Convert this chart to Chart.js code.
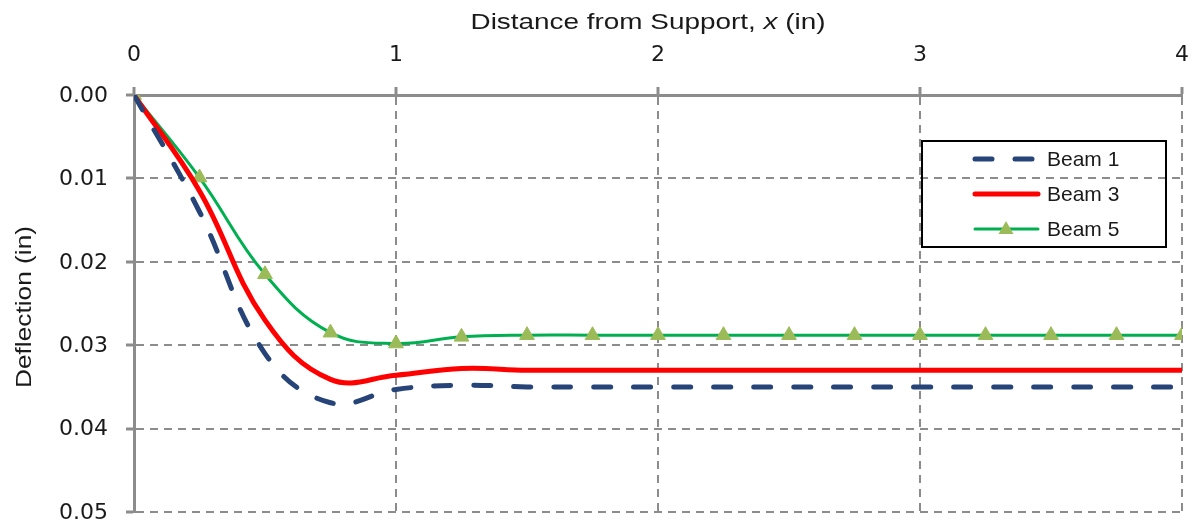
<!DOCTYPE html>
<html>
<head>
<meta charset="utf-8">
<title>Beam deflection</title>
<script src="https://cdn.jsdelivr.net/npm/chart.js@4/dist/chart.umd.min.js"></script>
<style>
  html, body { margin: 0; padding: 0; background: #ffffff; }
  #wrap { width: 1197px; height: 525px; position: relative; }
</style>
</head>
<body>
<div id="wrap"><canvas id="chart" width="1197" height="525"></canvas></div>
<script>
// Distance from support (in)
const positions = [0, 0.25, 0.5, 0.75, 1, 1.25, 1.5, 1.75, 2, 2.25, 2.5, 2.75, 3, 3.25, 3.5, 3.75, 4];

// Deflection (in) for each beam
const beam1 = [0, 0.0140, 0.0310, 0.0369, 0.0353, 0.0348, 0.0350, 0.0350, 0.0350, 0.0350, 0.0350, 0.0350, 0.0350, 0.0350, 0.0350, 0.0350, 0.0350];
const beam3 = [0, 0.0115, 0.0270, 0.0341, 0.0336, 0.0328, 0.0330, 0.0330, 0.0330, 0.0330, 0.0330, 0.0330, 0.0330, 0.0330, 0.0330, 0.0330, 0.0330];
const beam5 = [0, 0.0099, 0.0215, 0.0285, 0.0298, 0.0290, 0.0288, 0.0288, 0.0288, 0.0288, 0.0288, 0.0288, 0.0288, 0.0288, 0.0288, 0.0288, 0.0288];

const seriesNames = ['Beam 1', 'Beam 3', 'Beam 5'];
const xTicks = [0, 1, 2, 3, 4];
const yTicks = [0.00, 0.01, 0.02, 0.03, 0.04, 0.05];

const xTitle = ['Distance from Support, ', 'x', ' (in)'];
const yTitle = 'Deflection (in)';

const BLUE = '#264478';
const RED = '#ff0000';
const GREEN = '#00b050';
const MARK = '#9bbb59';
const GRID = '#8c8c8c';
const TEXT = '#1a1a1a';
const TICK_FONT = 'DejaVu Sans';
const TITLE_FONT = '"Liberation Sans"';

const toPoints = vals => vals.map((v, i) => ({ x: positions[i], y: v }));

// Axis titles (x title has an italic variable) and the outlined legend
const decorations = {
  id: 'decorations',
  afterDraw(chart) {
    const ctx = chart.ctx;
    ctx.save();

    // x-axis title across the top, widened a little to the axis' proportions
    ctx.fillStyle = TEXT;
    ctx.textBaseline = 'alphabetic';
    const fonts = ['22px ' + TITLE_FONT, 'italic 22px ' + TITLE_FONT, '22px ' + TITLE_FONT];
    let total = 0;
    const widths = xTitle.map((s, i) => { ctx.font = fonts[i]; const w = ctx.measureText(s).width; total += w; return w; });
    const targetW = 355;
    ctx.save();
    ctx.translate(648 - targetW / 2, 29);
    ctx.scale(targetW / total, 1);
    let x = 0;
    xTitle.forEach((s, i) => { ctx.font = fonts[i]; ctx.fillText(s, x, 0); x += widths[i]; });
    ctx.restore();

    // y-axis title, rotated
    ctx.save();
    ctx.translate(31, 307);
    ctx.rotate(-Math.PI / 2);
    ctx.font = '22px ' + TITLE_FONT;
    const yw = ctx.measureText(yTitle).width;
    ctx.scale(162 / yw, 1);
    ctx.textAlign = 'center';
    ctx.fillText(yTitle, 0, 0);
    ctx.restore();

    // legend: outlined box, grid shows through
    const bx = 922, by = 141, bw = 244, bh = 106;
    ctx.strokeStyle = '#000000';
    ctx.lineWidth = 2;
    ctx.strokeRect(bx, by, bw, bh);

    const rows = [159, 194, 229];
    const styles = [
      { color: BLUE, width: 5, dash: [17, 23], cap: 'round' },
      { color: RED, width: 5, dash: [], cap: 'round' },
      { color: GREEN, width: 3, dash: [], cap: 'round', marker: true }
    ];
    rows.forEach((ry, i) => {
      const st = styles[i];
      ctx.beginPath();
      ctx.setLineDash(st.dash);
      ctx.lineCap = st.cap;
      ctx.strokeStyle = st.color;
      ctx.lineWidth = st.width;
      ctx.moveTo(975, ry);
      ctx.lineTo(1038, ry);
      ctx.stroke();
      ctx.setLineDash([]);
      if (st.marker) {
        ctx.beginPath();
        ctx.fillStyle = MARK;
        ctx.moveTo(1006, ry - 8);
        ctx.lineTo(1013.5, ry + 5);
        ctx.lineTo(998.5, ry + 5);
        ctx.closePath();
        ctx.fill();
      }
      ctx.fillStyle = TEXT;
      ctx.font = '21px ' + TITLE_FONT;
      ctx.textAlign = 'left';
      ctx.textBaseline = 'middle';
      ctx.fillText(seriesNames[i], 1047, ry + 1);
    });
    ctx.restore();
  }
};

const gridOpts = {
  color: GRID,
  lineWidth: 2,
  tickLength: 8,
  tickColor: GRID,
  tickWidth: 3,
  tickBorderDash: []
};
const borderOpts = { display: true, color: GRID, width: 3, dash: [8, 6] };

// keep the plot area at a fixed place inside the canvas
const noScalePadding = s => { s.paddingLeft = 0; s.paddingRight = 0; s.paddingTop = 0; s.paddingBottom = 0; };

new Chart(document.getElementById('chart'), {
  type: 'line',
  data: {
    datasets: [
      {
        label: seriesNames[0],
        data: toPoints(beam1),
        borderColor: BLUE,
        borderWidth: 5,
        borderDash: [17, 23],
        borderCapStyle: 'round',
        pointRadius: 0,
        tension: 0.4,
        fill: false
      },
      {
        label: seriesNames[1],
        data: toPoints(beam3),
        borderColor: RED,
        borderWidth: 5,
        pointRadius: 0,
        tension: 0.4,
        fill: false
      },
      {
        label: seriesNames[2],
        data: toPoints(beam5),
        borderColor: GREEN,
        borderWidth: 3,
        pointStyle: 'triangle',
        pointRadius: 8.5,
        pointBackgroundColor: MARK,
        pointBorderColor: MARK,
        pointBorderWidth: 1,
        tension: 0.4,
        fill: false
      }
    ]
  },
  options: {
    responsive: false,
    animation: false,
    layout: { padding: { left: 0, right: 15, top: 0, bottom: 13 } },
    plugins: {
      legend: { display: false },
      tooltip: { enabled: false }
    },
    scales: {
      x: {
        type: 'linear',
        position: 'top',
        min: xTicks[0],
        max: xTicks[xTicks.length - 1],
        afterBuildTicks: s => { s.ticks = xTicks.map(v => ({ value: v })); },
        afterFit: s => { s.height = 95; noScalePadding(s); },
        ticks: {
          padding: 19,
          color: TEXT,
          font: { family: TICK_FONT, size: 22 },
          callback: v => String(v)
        },
        grid: gridOpts,
        border: borderOpts
      },
      y: {
        type: 'linear',
        reverse: true,
        min: yTicks[0],
        max: yTicks[yTicks.length - 1],
        afterBuildTicks: s => { s.ticks = yTicks.map(v => ({ value: v })); },
        afterFit: s => { s.width = 134; noScalePadding(s); },
        ticks: {
          padding: 18,
          labelOffset: 1,
          color: TEXT,
          font: { family: TICK_FONT, size: 22 },
          callback: v => Number(v).toFixed(2)
        },
        grid: gridOpts,
        border: borderOpts
      }
    }
  },
  plugins: [decorations]
});
</script>
</body>
</html>
